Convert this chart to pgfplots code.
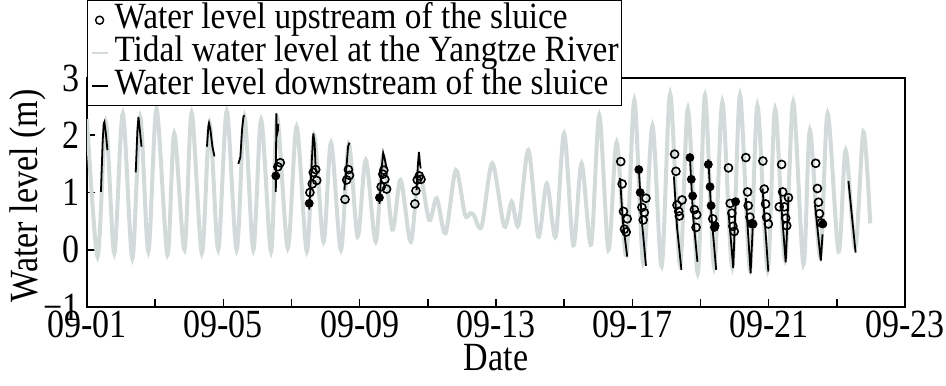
\documentclass[border=0pt]{standalone}
\usepackage{fontspec}
\setmainfont{Liberation Serif}[FakeStretch=0.85]
\newfontfamily\legfont{Liberation Serif}[FakeStretch=0.90]
\usepackage{pgfplots}
\pgfplotsset{compat=1.18}
\definecolor{tidegray}{RGB}{210,218,218}
\newcommand{\fs}{\fontsize{20}{20}\selectfont}
\begin{document}
\begin{tikzpicture}
\begin{axis}[
  name=ax, at={(0,0)}, anchor=south west,
  scale only axis, width=409pt, height=114.5pt,
  xmin=0, xmax=24, ymin=-1, ymax=3,
  axis line style={line width=1pt},
  tick align=inside, xtick pos=bottom, ytick pos=left,
  xtick={0,4,...,24},
  xticklabels={09-01,09-05,09-09,09-13,09-17,09-21,09-23},
  minor xtick={2,6,...,22},
  ytick={-1,0,1,2,3},
  yticklabels={−1,0,1,2,3},
  major tick length=4pt, minor tick length=4pt,
  tick style={line width=0.8pt, black},
  ticklabel style={font=\fs},
  xticklabel style={anchor=north, inner sep=0pt, yshift=-2pt, text height=13pt, text depth=0pt},
  yticklabel style={anchor=east, inner sep=0pt, xshift=-3.5pt},
  xlabel={Date}, ylabel={Water level (m)},
  label style={font=\fs},
  xlabel style={at={(axis description cs:0.5,-0.162)}, anchor=north, inner sep=0pt, text height=13pt, text depth=0pt},
  ylabel style={at={(axis description cs:-0.0721,0.485)}, anchor=center},
  legend style={at={(axis description cs:0,1.3406)}, anchor=north west,
    draw=black, line width=0.7pt, inner sep=1.5pt, font=\legfont\fontsize{18.5}{18.5}\selectfont,
    cells={anchor=west},
    nodes={inner sep=0pt, text height=12.5pt, text depth=4pt},
    /tikz/every odd column/.append style={column sep=3pt}},
]
% tidal water level at the Yangtze River
\addplot[tidegray, line width=2pt, smooth, forget plot] coordinates {
(0.00,2.28) (0.31,-0.12) (0.55,2.23) (0.80,-0.06) (1.05,2.38) (1.33,-0.15)
(1.56,2.32) (1.80,-0.03) (2.04,2.46) (2.36,-0.09) (2.56,2.03) (2.86,0.00)
(3.07,2.39) (3.37,-0.06) (3.60,2.20) (3.85,0.00) (4.10,2.42) (4.39,0.00)
(4.62,2.33) (4.88,0.00) (5.11,2.27) (5.40,-0.03) (5.58,2.30) (5.89,0.03)
(6.15,2.15) (6.45,-0.03) (6.66,2.00) (6.94,0.14) (7.16,1.87) (7.45,0.00)
(7.68,1.85) (7.94,0.23) (8.18,1.57) (8.47,0.14) (8.69,1.65) (8.96,0.35)
(9.20,1.22) (9.50,0.14) (9.74,1.35) (10.04,0.52) (10.26,0.90) (10.52,0.29)
(10.82,1.39) (11.09,0.61) (11.25,0.64) (11.35,0.60) (11.58,0.41) (11.89,1.51)
(12.24,0.41) (12.46,0.84) (12.66,0.43) (12.95,1.74) (13.24,0.23) (13.49,1.16)
(13.75,0.23) (14.00,2.03) (14.27,0.08) (14.51,1.51) (14.79,0.09) (15.03,2.35)
(15.30,0.00) (15.54,1.88) (15.82,-0.10) (16.06,2.61) (16.32,-0.23) (16.59,2.17)
(16.86,-0.29) (17.11,2.72) (17.40,-0.27) (17.63,2.46) (17.92,-0.41) (18.13,2.70)
(18.40,-0.30) (18.64,2.58) (18.93,-0.30) (19.16,2.70) (19.45,-0.35) (19.67,2.52)
(19.97,-0.35) (20.19,2.46) (20.48,-0.17) (20.72,2.58) (21.02,-0.26) (21.21,2.09)
(21.51,-0.12) (21.73,2.38) (22.05,-0.03) (22.26,1.74) (22.54,0.03) (22.78,2.06)
(22.98,0.46)};
% water level downstream of the sluice
\pgfplotsset{dsline/.style={black, line width=0.9pt, forget plot}}
\addplot[dsline] coordinates {(0.41,1.01) (0.46,1.90) (0.49,2.20) (0.51,2.23) (0.55,2.05) (0.60,1.74)};
\addplot[dsline] coordinates {(1.43,1.35) (1.48,2.10) (1.51,2.32) (1.54,2.15) (1.60,1.80)};
\addplot[dsline] coordinates {(3.52,1.80) (3.56,2.15) (3.58,2.21) (3.62,2.10) (3.68,1.80) (3.74,1.63)};
\addplot[dsline] coordinates {(4.44,1.50) (4.50,1.62) (4.55,2.10) (4.59,2.32) (4.62,2.35)};
\addplot[dsline] coordinates {(5.54,1.01) (5.555,2.38) (5.57,2.00) (5.60,2.08) (5.61,2.20)};
\addplot[dsline] coordinates {(6.52,0.70) (6.60,1.60) (6.64,2.03) (6.68,1.85) (6.71,1.36)};
\addplot[dsline] coordinates {(7.55,1.04) (7.62,1.50) (7.66,1.80) (7.70,1.87)};
\addplot[dsline] coordinates {(8.58,0.80) (8.64,1.40) (8.69,1.69) (8.73,1.60) (8.79,1.42)};
\addplot[dsline] coordinates {(9.67,1.04) (9.71,1.50) (9.74,1.71) (9.77,1.50) (9.79,1.42)};
\addplot[dsline] coordinates {(15.64,1.25) (15.72,0.50) (15.85,-0.12)};
\addplot[dsline] coordinates {(16.19,1.42) (16.28,0.50) (16.40,-0.28)};
\addplot[dsline] coordinates {(17.22,1.28) (17.31,0.40) (17.44,-0.35)};
\addplot[dsline] coordinates {(17.69,1.61) (17.78,0.60) (17.91,-0.21)};
\addplot[dsline] coordinates {(18.23,1.58) (18.32,0.60) (18.46,-0.35)};
\addplot[dsline] coordinates {(18.82,0.67) (18.96,-0.32) (19.03,0.84)};
\addplot[dsline] coordinates {(19.33,0.90) (19.47,-0.41) (19.53,0.36)};
\addplot[dsline] coordinates {(19.82,1.07) (19.99,-0.38)};
\addplot[dsline] coordinates {(20.33,1.07) (20.50,-0.22) (20.58,0.93)};
\addplot[dsline] coordinates {(21.36,0.78) (21.53,-0.19) (21.58,0.27)};
\addplot[dsline] coordinates {(22.34,1.20) (22.55,-0.05)};
% water level upstream of the sluice (open circles)
\addplot[only marks, mark=o, mark size=2pt, black, line width=0.8pt, forget plot] coordinates {
(5.60,1.45) (5.67,1.52)
(6.54,1.00) (6.61,1.15) (6.64,1.35) (6.71,1.40) (6.74,1.21)
(7.57,0.88) (7.62,1.22) (7.67,1.40) (7.70,1.30)
(8.63,1.10) (8.68,1.32) (8.71,1.39) (8.74,1.23) (8.79,1.06)
(9.62,0.80) (9.65,1.03) (9.69,1.22) (9.75,1.29) (9.80,1.23)
(15.66,1.54) (15.70,1.15) (15.74,0.67) (15.85,0.54) (15.77,0.36) (15.82,0.31)
(16.28,0.74) (16.40,0.90) (16.35,0.65) (16.32,0.52)
(17.24,1.67) (17.28,1.37) (17.31,0.78) (17.36,0.67) (17.38,0.59) (17.46,0.87)
(17.82,0.70) (17.89,0.61) (17.87,0.39)
(18.36,0.54)
(18.82,1.43) (18.87,0.81) (18.92,0.64) (18.95,0.41) (18.99,0.32)
(19.33,1.61) (19.38,1.01) (19.40,0.77) (19.45,0.57) (19.53,0.45)
(19.83,1.55) (19.87,1.06) (19.91,0.80) (19.94,0.57) (19.99,0.45)
(20.38,1.49) (20.41,1.01) (20.31,0.75) (20.46,0.75) (20.50,0.55) (20.58,0.91) (20.53,0.42)
(21.38,1.51) (21.43,1.07) (21.46,0.83) (21.49,0.63) (21.54,0.47)};
% upstream points lying on the downstream line (appear filled)
\addplot[only marks, mark=*, mark size=2pt, black, forget plot] coordinates {
(5.54,1.29) (6.52,0.81) (8.58,0.91)
(16.19,1.40) (16.23,1.00)
(17.69,1.61) (17.73,1.23) (17.77,0.94)
(18.23,1.49) (18.28,1.10) (18.31,0.77) (18.43,0.42) (18.41,0.39)
(19.03,0.84) (19.50,0.46) (21.59,0.45)};
\addlegendimage{legend image code/.code={\draw[black, line width=0.7pt] (4pt,0pt) circle (2pt);}}
\addlegendentry{Water level upstream of the sluice}
\addlegendimage{legend image code/.code={\draw[tidegray, line width=0.9pt] (0pt,0pt) -- (8pt,0pt);}}
\addlegendentry{Tidal water level at the Yangtze River}
\addlegendimage{legend image code/.code={\draw[black, line width=0.8pt] (0pt,0pt) -- (8pt,0pt);}}
\addlegendentry{Water level downstream of the sluice}
\end{axis}
\pgfresetboundingbox
\path[use as bounding box] ([shift={(-43.5pt,-39pt)}]ax.south west) rectangle ([shift={(429.5pt,153.5pt)}]ax.south west);
\end{tikzpicture}
\end{document}
